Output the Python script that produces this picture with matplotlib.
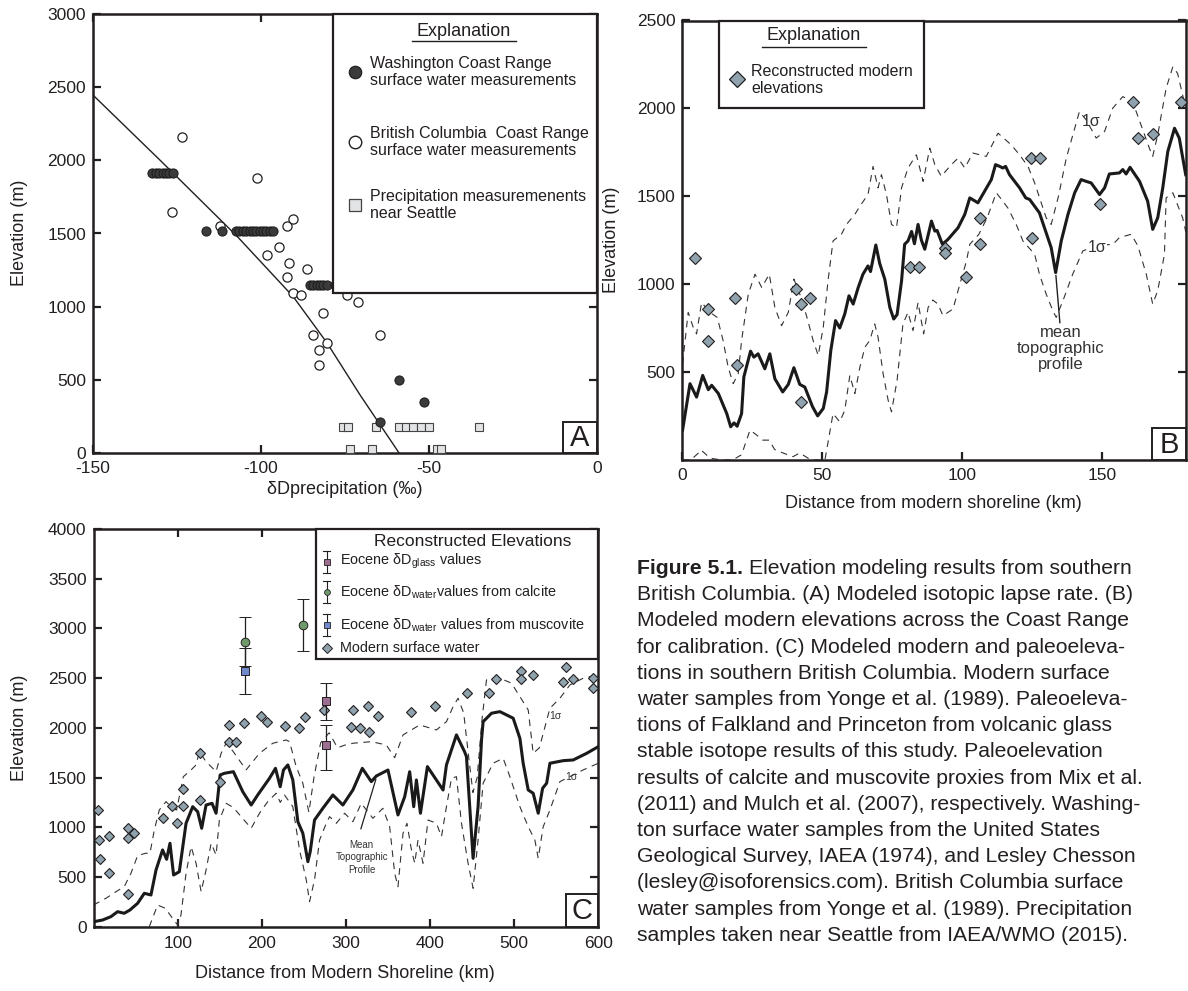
import matplotlib
matplotlib.use("Agg")
import matplotlib.pyplot as plt
import numpy as np
from matplotlib.lines import Line2D
from matplotlib.patches import Rectangle

plt.rcParams["font.family"] = ["Liberation Sans", "DejaVu Sans"]
plt.rcParams["mathtext.fontset"] = "custom"
plt.rcParams["mathtext.rm"] = "Liberation Sans"
plt.rcParams["mathtext.it"] = "Liberation Sans:italic"
plt.rcParams["mathtext.bf"] = "Liberation Sans:bold"
plt.rcParams["axes.unicode_minus"] = False

W, H = 1188, 991
INK = "#231f20"
DIAMOND = "#8fa2ad"
GLASS = "#9c6e91"
CALCITE = "#6f9a6b"
MUSC = "#7088cc"

# ---------------- panel A: isotopic lapse rate ----------------
wash_x = [-132.3, -131.3, -130.3, -129.3, -128.3, -127.3, -126.3,
          -116.5, -111.7, -107.4, -106.4, -105.4, -104.4, -103.4, -102.4,
          -101.4, -100.4, -99.4, -98.4, -97.4, -96.5,
          -85.4, -84.4, -83.4, -82.4, -81.4, -80.4, -78.0,
          -64.6, -58.9, -51.6]
wash_y = [1915, 1915, 1915, 1915, 1915, 1915, 1915,
          1519, 1519, 1519, 1519, 1519, 1519, 1519, 1519,
          1519, 1519, 1519, 1519, 1519, 1519,
          1146, 1146, 1146, 1146, 1146, 1146, 1146,
          212, 500, 351]

bc_x = [-123.4, -126.4, -101.3, -112.2, -92.4, -90.4, -98.3, -94.6, -91.6,
        -86.4, -92.4, -90.6, -88.2, -74.5, -71.0, -81.5, -84.4, -80.5,
        -82.6, -82.6, -64.6]
bc_y = [2157, 1649, 1881, 1551, 1553, 1597, 1353, 1410, 1300,
        1255, 1200, 1095, 1078, 1078, 1034, 955, 804, 754,
        704, 601, 804]

precip_x = [-75.6, -74.1, -65.8, -58.9, -56.8, -54.7, -52.4, -49.9, -35.1,
            -73.5, -67.1, -47.7, -46.3]
precip_y = [175, 175, 175, 175, 175, 175, 175, 175, 175,
            25, 25, 25, 25]

lapse_x = [-150, -130, -107, -90.4, -80.4, -70.5, -58.9]
lapse_y = [2446, 2000, 1478, 1068, 754, 396, 0]

# ---------------- panel B: modern calibration ----------------
b_mean = [(0.1, 170), (2.75, 434), (5.1, 358), (7.3, 481), (9.3, 400), (10.5, 425),
          (12.9, 378), (15.9, 264), (17.3, 189), (18.5, 211), (19.6, 192), (21.2, 264),
          (22, 472), (24.4, 619), (25.6, 585), (27.1, 604), (29.5, 519), (31.3, 604),
          (33.1, 462), (35.9, 387), (37.9, 430), (39.9, 525), (42, 430), (43.8, 415),
          (46.6, 302), (48.4, 251), (50.4, 293), (51.6, 387), (53.1, 623), (54.8, 793),
          (56.3, 751), (58.1, 831), (59.6, 934), (61.1, 887), (62.9, 981), (64.6, 1057),
          (66.4, 1104), (67.3, 1072), (69.2, 1223), (70.6, 1117), (72.4, 1029),
          (74.2, 868), (75.6, 802), (76.8, 827), (78.4, 1019), (79.5, 1227),
          (80.7, 1246), (82, 1300), (83, 1230), (84.3, 1340), (85.5, 1250),
          (86.7, 1199), (89.1, 1359), (90.3, 1302), (91.1, 1306), (93, 1227),
          (95, 1255), (98.6, 1321), (101, 1397), (102.8, 1491), (105.7, 1463),
          (108.1, 1529), (110.5, 1595), (112, 1680), (113.5, 1670), (114.6, 1661),
          (115.6, 1670), (117, 1623), (120.6, 1548), (122.8, 1491), (124.2, 1482),
          (127.7, 1406), (129.5, 1321), (131.9, 1208), (133.5, 1066), (135.5, 1246),
          (137.9, 1397), (140.3, 1520), (142.6, 1595), (144.4, 1585), (146.2, 1576),
          (149.2, 1510), (151, 1548), (152.7, 1627), (156.3, 1633), (157.5, 1652),
          (158.7, 1627), (160.1, 1665), (163.5, 1585), (166.4, 1472), (168.2, 1312),
          (170, 1378), (171.8, 1548), (173.6, 1755), (176, 1887), (177.7, 1831),
          (180, 1623)]

b_upper = [(0.1, 547), (2.1, 840), (3.9, 755), (5.1, 717), (6.9, 896), (9.9, 840),
           (12.5, 811), (14.6, 679), (16.4, 528), (18.2, 434), (20, 491), (21.2, 679),
           (23.6, 944), (26, 1057), (28.4, 981), (31.1, 1057), (33.1, 868), (35.5, 764),
           (37.9, 840), (39.9, 1029), (42, 944), (44.4, 821), (46.8, 679), (48.6, 595),
           (50.4, 755), (52.1, 1019), (53.9, 1246), (56.9, 1284), (58.7, 1340),
           (61.7, 1397), (63.5, 1444), (66.4, 1510), (68.2, 1670), (70, 1548),
           (71.2, 1623), (73, 1510), (74.8, 1340), (76.6, 1321), (78.4, 1548),
           (80.7, 1661), (83.7, 1736), (86.1, 1585), (88.5, 1774), (90.3, 1680),
           (92.6, 1614), (96.2, 1680), (98.6, 1717), (101, 1661), (103.9, 1746),
           (108.7, 1727), (112.9, 1859), (117.6, 1793), (120.6, 1736), (123.6, 1670),
           (126, 1576), (130.1, 1378), (131.9, 1340), (134.5, 1500), (137.3, 1717),
           (142, 1982), (144.4, 1935), (148, 1831), (151, 1869), (153.9, 2001),
           (157.5, 2067), (161, 2039), (164, 1907), (167, 1774), (168.2, 1727),
           (170, 1850), (173, 2114), (175.4, 2237), (177.1, 2199), (180, 2001)]

b_lower = [(0, 0), (3, 0), (6.3, 47), (6.7, 57), (10, 10), (14, 0), (18, 0),
           (21.2, 30), (24.2, 170), (26.6, 142), (28.8, 113), (31.1, 113), (33, 60),
           (36, 40), (39.6, 19), (42, 40), (44, 20), (46, 0), (51, 0), (53.9, 264),
           (56.3, 217), (58.1, 283), (59.9, 481), (61.7, 378), (63.5, 528), (65.3, 642),
           (67, 679), (68.8, 774), (70, 698), (71.8, 491), (73.6, 340), (74.8, 274),
           (76.8, 453), (78.9, 774), (80.7, 840), (82.5, 736), (84.3, 896), (86.3, 717),
           (87.9, 868), (89.6, 910), (91.4, 887), (93.2, 821), (96.8, 859), (98.6, 963),
           (101.6, 1132), (102.8, 1227), (106, 1283), (109, 1378), (112.3, 1520),
           (114.6, 1472), (116.4, 1434), (119.4, 1340), (121.8, 1246), (126, 1170),
           (127.7, 1057), (130.1, 944), (132.5, 849), (133.7, 811), (136.1, 906),
           (139.6, 1057), (143.2, 1189), (148, 1220), (154, 1227), (156.3, 1265),
           (160.5, 1284), (162.9, 1218), (165.9, 1057), (168.2, 887), (170, 963),
           (172.4, 1170), (173, 1491), (175.4, 1520), (178.9, 1378), (180, 1300)]

b_diam_km = [4.5, 9.3, 9.3, 18.8, 19.6, 40.6, 42.3, 45.6, 42.3, 81.3, 84.6, 93.8,
             93.8, 101.6, 106.3, 106.3, 124.8, 127.8, 125.1, 149.5, 161, 163.1,
             168.2, 178.4]
b_diam_m = [1148, 859, 676, 921, 538, 972, 887, 921, 330, 1095, 1095, 1208,
            1180, 1042, 1227, 1378, 1717, 1717, 1261, 1457, 2039, 1831,
            1855, 2039]

# ---------------- panel C: modern and paleoelevations ----------------
c_mean = [(0, 50), (10.7, 67), (20.7, 101), (28.6, 151), (36.5, 135), (43.3, 168),
          (52.4, 235), (60.4, 336), (68.3, 319), (74.3, 570), (82.1, 772), (86.9, 678),
          (90.9, 839), (95.2, 520), (102, 553), (110, 1040), (117.9, 1207),
          (123.8, 1157), (128.6, 990), (133.8, 1224), (140.9, 1241), (145.7, 1141),
          (150.5, 1526), (155.6, 1543), (166.3, 1559), (177.4, 1358), (187.4, 1224),
          (195.2, 1325), (209.2, 1493), (216.3, 1593), (221.9, 1408), (225.8, 1576),
          (231, 1627), (236.9, 1476), (242.9, 1056), (248.8, 940), (254.8, 654),
          (257.6, 755), (262.7, 1073), (272.6, 1191), (284.5, 1325), (296.4, 1224),
          (308.3, 1375), (319.5, 1593), (330.2, 1459), (336.2, 1516), (350, 1576),
          (361.9, 1124), (369.9, 1308), (375.8, 1559), (380.6, 1207), (383.8, 1476),
          (388.6, 1141), (396.9, 1610), (415.5, 1375), (419.5, 1627), (429.4, 1878),
          (431.4, 1929), (441, 1761), (443.3, 1710), (451.2, 688), (457.1, 1207),
          (461.2, 1878), (463.1, 2062), (473.1, 2147), (483, 2163), (486.9, 2147),
          (498.8, 2097), (506.8, 1895), (510.7, 1644), (516.7, 1375), (522.6, 1342),
          (528.6, 1141), (533.8, 1392), (538.6, 1443), (542.5, 1644), (558.3, 1670),
          (570.2, 1677), (586.2, 1744), (600, 1811)]

c_upper = [(0, 218), (14.8, 286), (26.7, 352), (36.5, 402), (44.5, 537), (52.4, 714),
           (61.5, 738), (67.1, 738), (72.3, 973), (78.2, 1174), (86.2, 1258), (94, 1191),
           (98.8, 1174), (106.8, 1509), (116, 1577), (121.9, 1627), (125.8, 1761),
           (133.8, 1660), (145.7, 1560), (151.7, 1744), (157.6, 1845), (165.5, 1768),
           (181.4, 1577), (197.3, 1744), (213.1, 1845), (229, 1878), (233, 1861),
           (240.9, 1610), (248.8, 1443), (256, 1150), (262, 1500), (270, 1850),
           (280, 1950), (290, 1800), (300, 1830), (308.3, 1845), (330.2, 1861),
           (348, 1828), (358, 1700), (367.9, 1929), (387.7, 2029), (407.6, 1979),
           (419.5, 2062), (427.4, 2213), (433.3, 2298), (440, 2150), (446, 1700),
           (451, 1350), (456, 1500), (462, 2100), (467.1, 2482), (483, 2499),
           (496.9, 2449), (506.8, 2314), (516.7, 2180), (522.6, 1744), (530, 1800),
           (542.5, 2197), (554.4, 2298), (566.3, 2432), (582.1, 2499), (600, 2532)]

c_lower = [(66.3, 0), (76.2, 218), (85.4, 185), (94, 84), (100, 17), (104, 118),
           (110, 537), (116, 805), (121.9, 638), (127.9, 352), (133.8, 570),
           (139.8, 839), (145.7, 721), (149.6, 1073), (157.6, 1241), (166, 1200),
           (175.5, 1107), (187.4, 990), (197.3, 1141), (207.1, 1258), (217.1, 1342),
           (222, 1250), (227, 1325), (236.9, 1207), (244.9, 772), (252.9, 470),
           (256.8, 252), (262.7, 470), (268.7, 872), (276.7, 1040), (280.6, 1107),
           (288.6, 1040), (298.5, 1141), (308.3, 1056), (318.3, 1241), (332.1, 1090),
           (344, 1191), (352, 1006), (358, 537), (361.9, 402), (367.9, 940),
           (372.6, 1040), (377.9, 772), (381.8, 638), (385.7, 872), (391.7, 638),
           (397.6, 1073), (407.6, 1040), (413.6, 906), (419.5, 1207), (425.5, 1493),
           (431.4, 1509), (437.4, 1040), (445.2, 638), (451.2, 386), (457.1, 872),
           (463.1, 1443), (475, 1644), (486.9, 1694), (494.9, 1509), (506.8, 1207),
           (516.7, 1006), (524.6, 872), (528.6, 688), (534.5, 1006), (542.5, 1174),
           (554.4, 1459), (582.1, 1577), (600, 1644)]

c_water = [(160.7, 2029), (179.4, 2053), (199.3, 2120), (206, 2056), (228.2, 2022),
           (244, 1996), (250.8, 2113), (273.5, 2180), (161.5, 1855), (169.5, 1855),
           (126.7, 1744), (150.5, 1459), (106.8, 1382), (126.7, 1275), (93.3, 1214),
           (106.8, 1214), (83, 1097), (98.8, 1046), (4.8, 1174), (6.8, 872),
           (17.9, 916), (40.5, 990), (48.5, 946), (40.5, 889), (7.6, 681), (18.7, 543),
           (40.5, 329), (308.3, 2180), (326.2, 2223), (338.1, 2123), (306.4, 2012),
           (316.3, 2002), (327.4, 1962), (377.9, 2157), (405.6, 2223), (444, 2348),
           (470.2, 2348), (478.2, 2492), (508, 2576), (508, 2492), (522.6, 2532),
           (561.5, 2616), (557.6, 2465), (569.5, 2492), (594, 2505), (594, 2398)]

glass_km = [276.6, 276.6]
glass_m = [2270, 1830]
glass_err = [[190, 250], [180, 195]]
calcite_km = [180.2, 249.6]
calcite_m = [2867, 3035]
calcite_err = [245, 265]
musc_km = [180.2]
musc_m = [2576]
musc_err = [232]

caption = [
    "British Columbia. (A) Modeled isotopic lapse rate. (B)",
    "Modeled modern elevations across the Coast Range",
    "for calibration. (C) Modeled modern and paleoeleva-",
    "tions in southern British Columbia. Modern surface",
    "water samples from Yonge et al. (1989). Paleoeleva-",
    "tions of Falkland and Princeton from volcanic glass",
    "stable isotope results of this study. Paleoelevation",
    "results of calcite and muscovite proxies from Mix et al.",
    "(2011) and Mulch et al. (2007), respectively. Washing-",
    "ton surface water samples from the United States",
    "Geological Survey, IAEA (1974), and Lesley Chesson",
    "(lesley@isoforensics.com). British Columbia surface",
    "water samples from Yonge et al. (1989). Precipitation",
    "samples taken near Seattle from IAEA/WMO (2015).",
]

fig = plt.figure(figsize=(W / 100, H / 100), dpi=100)


def fx(px):
    return px / W


def fy(py):
    return 1 - py / H


def box(x0, y0, x1, y1, lw=1.6):
    fig.add_artist(Rectangle((fx(x0), fy(y1)), (x1 - x0) / W, (y1 - y0) / H,
                             transform=fig.transFigure, facecolor="white",
                             edgecolor=INK, lw=lw, zorder=5))


def seg(x0, y0, x1, y1, lw=1.0):
    fig.add_artist(Line2D([fx(x0), fx(x1)], [fy(y0), fy(y1)], transform=fig.transFigure,
                          color=INK, lw=lw, zorder=6))


def mark(px, py, **kw):
    fig.add_artist(Line2D([fx(px)], [fy(py)], transform=fig.transFigure, ls="none",
                          zorder=7, **kw))


def txt(px, py, s, **kw):
    kw.setdefault("color", INK)
    fig.text(fx(px), fy(py), s, zorder=8, **kw)


def style(ax, top=True):
    for sp in ax.spines.values():
        sp.set_linewidth(1.8)
        sp.set_color(INK)
    ax.tick_params(direction="in", length=6, width=1.6, colors=INK, labelsize=12.5,
                   top=top, right=True, pad=5)


def dashed(ax, pts):
    a = np.array(pts).T
    ax.plot(a[0], a[1], color="#333333", lw=0.8, ls=(0, (6, 5)), zorder=2)


# panel A
axA = fig.add_axes([fx(93), fy(453), 504 / W, 439 / H])
axA.plot(lapse_x, lapse_y, color=INK, lw=1.0, zorder=2)
axA.plot(precip_x, precip_y, ls="none", marker="s", ms=6, mfc="#e2e3e4", mec="#444444",
         mew=0.8, zorder=3, clip_on=False)
axA.plot(bc_x, bc_y, ls="none", marker="o", ms=6.6, mfc="white", mec=INK, mew=0.9, zorder=3)
axA.plot(wash_x, wash_y, ls="none", marker="o", ms=6.6, mfc="#3b3b3b", mec="#1a1a1a",
         mew=0.7, zorder=4)
axA.set_xlim(-150, 0)
axA.set_ylim(0, 3000)
axA.set_xticks([-150, -100, -50, 0])
axA.set_yticks(np.arange(0, 3001, 500))
style(axA)
axA.tick_params(axis="x", pad=6)

# panel B
axB = fig.add_axes([fx(682.3), fy(460), 503.4 / W, 439.5 / H])
dashed(axB, b_upper)
dashed(axB, b_lower)
bm = np.array(b_mean).T
axB.plot(bm[0], bm[1], color="#1a1a1a", lw=2.2, zorder=3)
axB.plot(b_diam_km, b_diam_m, ls="none", marker="D", ms=6, mfc=DIAMOND, mec=INK,
         mew=0.8, zorder=4, clip_on=False)
axB.set_xlim(0, 180)
axB.set_ylim(0, 2500)
axB.set_xticks([0, 50, 100, 150])
axB.set_yticks([500, 1000, 1500, 2000, 2500])
style(axB, top=False)
axB.tick_params(axis="x", pad=6)
axB.text(146.3, 1925, "1σ", fontsize=11.5, color="#333333", ha="center", va="center",
         zorder=5)
axB.text(148.4, 1206, "1σ", fontsize=11.5, color="#333333", ha="center", va="center",
         zorder=5, bbox=dict(facecolor="white", edgecolor="none", pad=0.5))
axB.annotate("", xy=(133.5, 1066), xytext=(135.1, 764),
             arrowprops=dict(arrowstyle="-", lw=1.0, color=INK))
axB.text(135.4, 770, "mean\ntopographic\nprofile", fontsize=12, color="#333333",
         ha="center", va="top", linespacing=1.1)

# panel C
axC = fig.add_axes([fx(93.5), fy(926.7), 504.8 / W, 397.7 / H])
dashed(axC, c_upper)
dashed(axC, c_lower)
cm = np.array(c_mean).T
axC.plot(cm[0], cm[1], color="#1a1a1a", lw=2.2, zorder=3)
cw = np.array(c_water).T
axC.plot(cw[0], cw[1], ls="none", marker="D", ms=5.6, mfc=DIAMOND, mec=INK, mew=0.8,
         zorder=4, clip_on=False)
ebkw = dict(ls="none", ecolor=INK, elinewidth=0.9, capsize=4, capthick=0.9, mec=INK,
            mew=0.7, zorder=5)
axC.errorbar(calcite_km, calcite_m, yerr=calcite_err, marker="o", ms=6.2, mfc=CALCITE,
             **ebkw)
axC.errorbar(musc_km, musc_m, yerr=musc_err, marker="s", ms=5.2, mfc=MUSC, **ebkw)
axC.errorbar(glass_km, glass_m, yerr=glass_err, marker="s", ms=5.2, mfc=GLASS, **ebkw)
axC.set_xlim(0, 600)
axC.set_ylim(0, 4000)
axC.set_xticks([100, 200, 300, 400, 500, 600])
axC.set_yticks(np.arange(0, 4001, 500))
style(axC)
axC.tick_params(axis="x", pad=7)
axC.text(548.6, 2120, "1σ", fontsize=7.5, color="#333333", ha="center", va="center",
         zorder=5)
axC.text(568.4, 1505, "1σ", fontsize=7.5, color="#333333", ha="center", va="center",
         zorder=5)
axC.annotate("", xy=(336.6, 1510), xytext=(316.8, 956),
             arrowprops=dict(arrowstyle="-", lw=0.9, color=INK))
axC.text(318.9, 872, "Mean\nTopographic\nProfile", fontsize=7, color="#333333",
         ha="center", va="top", linespacing=1.3)

# axis labels
txt(20, 233, "Elevation (m)", fontsize=13, rotation=90, ha="center", va="center")
txt(345, 490, "δDprecipitation (‰)", fontsize=13, ha="center", va="center")
txt(612, 240, "Elevation (m)", fontsize=13, rotation=90, ha="center", va="center")
txt(933, 503, "Distance from modern shoreline (km)", fontsize=13, ha="center",
    va="center")
txt(20, 728, "Elevation (m)", fontsize=13, rotation=90, ha="center", va="center")
txt(345, 973, "Distance from Modern Shoreline (km)", fontsize=13, ha="center",
    va="center")

# legend A
box(333, 14, 597, 293)
txt(464, 32, "Explanation", fontsize=13, ha="center", va="center")
seg(412, 41, 516, 41)
mark(355, 72, marker="o", ms=9, mfc="#3b3b3b", mec="#1a1a1a", mew=0.8)
txt(370, 72, "Washington Coast Range\nsurface water measurements", fontsize=11.5,
    va="center", linespacing=1.2)
mark(355, 142, marker="o", ms=9, mfc="white", mec=INK, mew=1.0)
txt(370, 142, "British Columbia  Coast Range\nsurface water measurements", fontsize=11.5,
    va="center", linespacing=1.2)
mark(355, 205, marker="s", ms=8.5, mfc="#e2e3e4", mec="#444444", mew=0.9)
txt(370, 205, "Precipitation measuremenents\nnear Seattle", fontsize=11.5, va="center",
    linespacing=1.2)

# legend B
box(719.3, 20.7, 924.3, 107.7)
txt(813.8, 36, "Explanation", fontsize=13, ha="center", va="center")
seg(761.7, 47, 866, 47)
mark(737, 79, marker="D", ms=8.5, mfc=DIAMOND, mec=INK, mew=0.9)
txt(751, 80, "Reconstructed modern\nelevations", fontsize=11.5, va="center",
    linespacing=1.2)

# legend C
box(316, 529, 598.3, 659.3)
txt(473, 541.5, "Reconstructed Elevations", fontsize=12.5, ha="center", va="center")
for py, col, mk in [(561.7, GLASS, "s"), (592.3, CALCITE, "o"), (625, MUSC, "s")]:
    seg(326.7, py - 11, 326.7, py + 11, lw=0.8)
    seg(323.2, py - 11, 330.2, py - 11, lw=0.8)
    seg(323.2, py + 11, 330.2, py + 11, lw=0.8)
    mark(326.7, py, marker=mk, ms=4.2, mfc=col, mec=INK, mew=0.6)
mark(326.7, 648.3, marker="D", ms=4.6, mfc=DIAMOND, mec=INK, mew=0.7)
txt(340, 561.7, r"Eocene δD$_{\mathrm{glass}}$ values", fontsize=10.4, va="center")
txt(340, 592.3, r"Eocene δD$_{\mathrm{water}}$values from calcite", fontsize=10.4,
    va="center")
txt(340, 625, r"Eocene δD$_{\mathrm{water}}$ values from muscovite", fontsize=10.4,
    va="center")
txt(340, 648.3, "Modern surface water", fontsize=10.4, va="center")

# panel letters
for (x0, y0, x1, y1), letter in [((563, 422, 597, 453), "A"),
                                 ((1152.3, 428.3, 1185.7, 460), "B"),
                                 ((565.7, 894, 598.3, 926.7), "C")]:
    box(x0, y0, x1, y1, lw=1.4)
    txt((x0 + x1) / 2, (y0 + y1) / 2 + 1, letter, fontsize=21, ha="center", va="center")

# caption
CAP_FS = 15.2
head = fig.text(fx(637), fy(574), "Figure 5.1.", fontsize=CAP_FS, fontweight="bold",
                color=INK, va="baseline")
fig.add_artist(plt.Annotation("Elevation modeling results from southern", xy=(1, 0),
                              xycoords=head, xytext=(4.5, 0), textcoords="offset points",
                              fontsize=CAP_FS, color=INK, va="bottom"))
for i, line in enumerate(caption):
    txt(637, 574 + 26.2 * (i + 1), line, fontsize=CAP_FS, va="baseline")

fig.savefig("out.png", dpi=100)
